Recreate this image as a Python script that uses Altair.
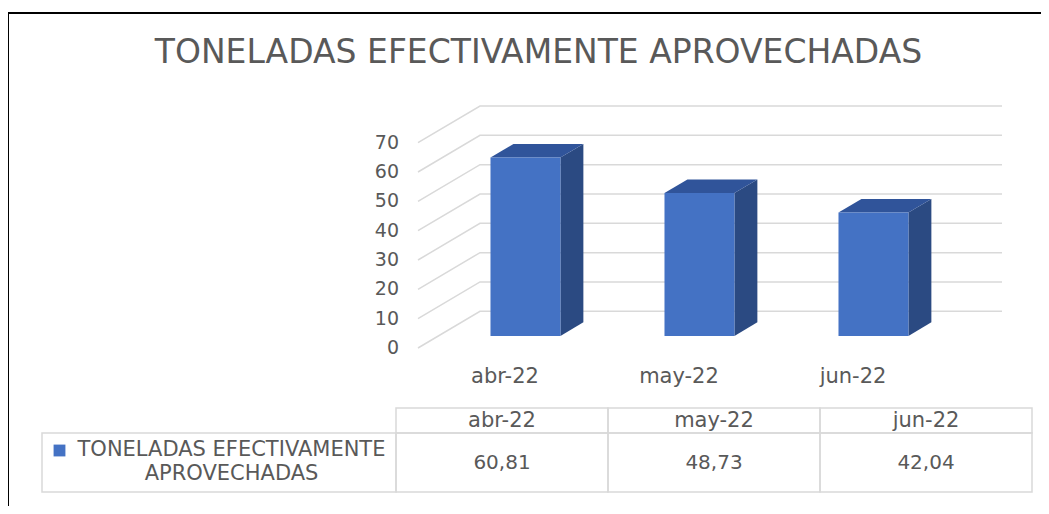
import altair as alt
import pandas as pd

# ---------------- data ----------------
CATEGORIES = ["abr-22", "may-22", "jun-22"]
VALUES = [60.81, 48.73, 42.04]
VALUE_LABELS = ["60,81", "48,73", "42,04"]
TICKS = [0, 10, 20, 30, 40, 50, 60, 70]
TITLE = "TONELADAS EFECTIVAMENTE APROVECHADAS"
SERIES_LINES = ["TONELADAS EFECTIVAMENTE", "APROVECHADAS"]

# ---------------- layout / style ----------------
W, H = 1033, 498
FONT = "DejaVu Sans"
TXT = "#595959"
GRID = "#d9d9d9"
FRONT = "#4472c4"
TOP = "#30549a"
SIDE = "#2b4a82"

X0, PXC = 497, 174.0      # svg px of first category (front edge), px per category
Y0, PXV = 340, 2.933      # svg px of value 0 (front edge), px per unit
DX, DY = 62 / PXC, 36.7 / PXV   # full depth offset in data units
Z1, Z2 = 0.33, 0.70             # bar depth (front, back) as fraction of depth
HALF = 0.201                     # half bar width in category units

xs = alt.Scale(domain=[-X0 / PXC, (W - X0) / PXC], nice=False, zero=False)
ys = alt.Scale(domain=[(Y0 - H) / PXV, Y0 / PXV], nice=False, zero=False)

# ---------------- derived tables ----------------
n = len(CATEGORIES)
front_rows, side_rows, top_rows = [], [], []
for i, (c, v) in enumerate(zip(CATEGORIES, VALUES)):
    xl = i + Z1 * DX - HALF
    xr = i + Z1 * DX + HALF
    b1 = Z1 * DY
    ddx = (Z2 - Z1) * DX
    ddy = (Z2 - Z1) * DY
    front_rows.append(dict(cat=c, x1=xl, x2=xr, y1=b1, y2=b1 + v))
    side_rows += [dict(cat=c, x=xr, hi=b1 + v, lo=b1),
                  dict(cat=c, x=xr + ddx, hi=b1 + v + ddy, lo=b1 + ddy)]
    t = b1 + v
    top_rows += [dict(cat=c, x=xl, hi=t, lo=t),
                 dict(cat=c, x=xl + ddx, hi=t + ddy, lo=t),
                 dict(cat=c, x=xr, hi=t + ddy, lo=t),
                 dict(cat=c, x=xr + ddx, hi=t + ddy, lo=t + ddy)]
front_df = pd.DataFrame(front_rows)
side_df = pd.DataFrame(side_rows)
top_df = pd.DataFrame(top_rows)

grid_rows = []
for tk in TICKS:
    grid_rows += [dict(tick=tk, x=-0.5, y=tk),
                  dict(tick=tk, x=-0.5 + DX, y=tk + DY),
                  dict(tick=tk, x=n - 0.5 + DX, y=tk + DY)]
grid_df = pd.DataFrame(grid_rows)
tick_df = pd.DataFrame(dict(x=[-0.5] * len(TICKS), y=TICKS, label=[str(t) for t in TICKS]))
cat_df = pd.DataFrame(dict(x=list(range(n)), y=[-9.9] * n, label=CATEGORIES))

X = lambda f: alt.X(f, type="quantitative", scale=xs, axis=None)
Y = lambda f: alt.Y(f, type="quantitative", scale=ys, axis=None)

grid = alt.Chart(grid_df).mark_line(color=GRID, strokeWidth=1.5).encode(
    x=X("x"), y=Y("y"), detail="tick:N")
side = alt.Chart(side_df).mark_area(color=SIDE, opacity=1).encode(
    x=X("x"), y=Y("hi"), y2="lo", detail="cat:N")
topf = alt.Chart(top_df).mark_area(color=TOP, opacity=1).encode(
    x=X("x"), y=Y("hi"), y2="lo", detail="cat:N")
frontf = alt.Chart(front_df).mark_rect(color=FRONT).encode(
    x=X("x1"), x2="x2", y=Y("y1"), y2="y2")
ticks = alt.Chart(tick_df).mark_text(font=FONT, fontSize=19, color=TXT, align="right",
                                     baseline="middle", dx=-19).encode(
    x=X("x"), y=Y("y"), text="label:N")
cats = alt.Chart(cat_df).mark_text(font=FONT, fontSize=21, color=TXT, align="center",
                                   baseline="middle").encode(
    x=X("x"), y=Y("y"), text="label:N")
title = alt.Chart(pd.DataFrame(dict(t=[TITLE]))).mark_text(
    font=FONT, fontSize=33, color=TXT, align="center", baseline="middle").encode(
    x=alt.value(530.5), y=alt.value(45), text="t:N")

main = alt.layer(grid, side, topf, frontf, ticks, cats, title)

# ---------------- data table ----------------
TX0, TPX = 388, 212.0   # svg px of first value column left edge, px per column
TY0, TPY = 400, 25.0    # svg px of table top, px per row unit
LABEL_LEFT = -354 / TPX
DATA_BOTTOM = 1 + 59 / TPY
txs = alt.Scale(domain=[-TX0 / TPX, (W - TX0) / TPX], nice=False, zero=False)
tys = alt.Scale(domain=[-TY0 / TPY, (H - TY0) / TPY], nice=False, zero=False, reverse=True)
TXf = lambda f: alt.X(f, type="quantitative", scale=txs, axis=None)
TYf = lambda f: alt.Y(f, type="quantitative", scale=tys, axis=None)

cells = []
for j in range(n):
    cells.append(dict(x1=j, x2=j + 1, y1=0, y2=1))
    cells.append(dict(x1=j, x2=j + 1, y1=1, y2=DATA_BOTTOM))
cells.append(dict(x1=LABEL_LEFT, x2=0, y1=1, y2=DATA_BOTTOM))
cells_df = pd.DataFrame(cells)
head_df = pd.DataFrame(dict(x=[j + 0.5 for j in range(n)], y=[0.5] * n, label=CATEGORIES))
val_df = pd.DataFrame(dict(x=[j + 0.5 for j in range(n)], y=[(1 + DATA_BOTTOM) / 2] * n,
                           label=VALUE_LABELS))
lab_df = pd.DataFrame(dict(x=[-164.5 / TPX] * 2, y=[1.68, 2.64], label=SERIES_LINES))
key_df = pd.DataFrame(dict(x=[-336.5 / TPX], y=[1.70]))

tcells = alt.Chart(cells_df).mark_rect(filled=False, color=GRID, strokeWidth=1.5).encode(
    x=TXf("x1"), x2="x2", y=TYf("y1"), y2="y2")
thead = alt.Chart(head_df).mark_text(font=FONT, fontSize=21, color=TXT, baseline="middle").encode(
    x=TXf("x"), y=TYf("y"), text="label:N")
tvals = alt.Chart(val_df).mark_text(font=FONT, fontSize=20, color=TXT, baseline="middle").encode(
    x=TXf("x"), y=TYf("y"), text="label:N")
tlab = alt.Chart(lab_df).mark_text(font=FONT, fontSize=21, color=TXT, baseline="middle").encode(
    x=TXf("x"), y=TYf("y"), text="label:N")
tkey = alt.Chart(key_df).mark_square(color=FRONT, size=140, opacity=1).encode(
    x=TXf("x"), y=TYf("y"))

table = alt.layer(tcells, thead, tvals, tlab, tkey)

# frame lines of the original screenshot
frame = alt.layer(
    alt.Chart(pd.DataFrame(dict(a=[0]))).mark_rule(color="black", strokeWidth=2).encode(
        x=alt.value(0), y=alt.value(4), y2=alt.value(H)),
    alt.Chart(pd.DataFrame(dict(a=[0]))).mark_rule(color="black", strokeWidth=2).encode(
        x=alt.value(0), x2=alt.value(W), y=alt.value(5)),
)

chart = alt.layer(main, table, frame).resolve_scale(x="independent", y="independent").properties(
    width=W, height=H, padding=0, autosize="none"
).configure_view(stroke=None)

chart.save("out.html", embed_options={"renderer": "svg", "actions": False})
